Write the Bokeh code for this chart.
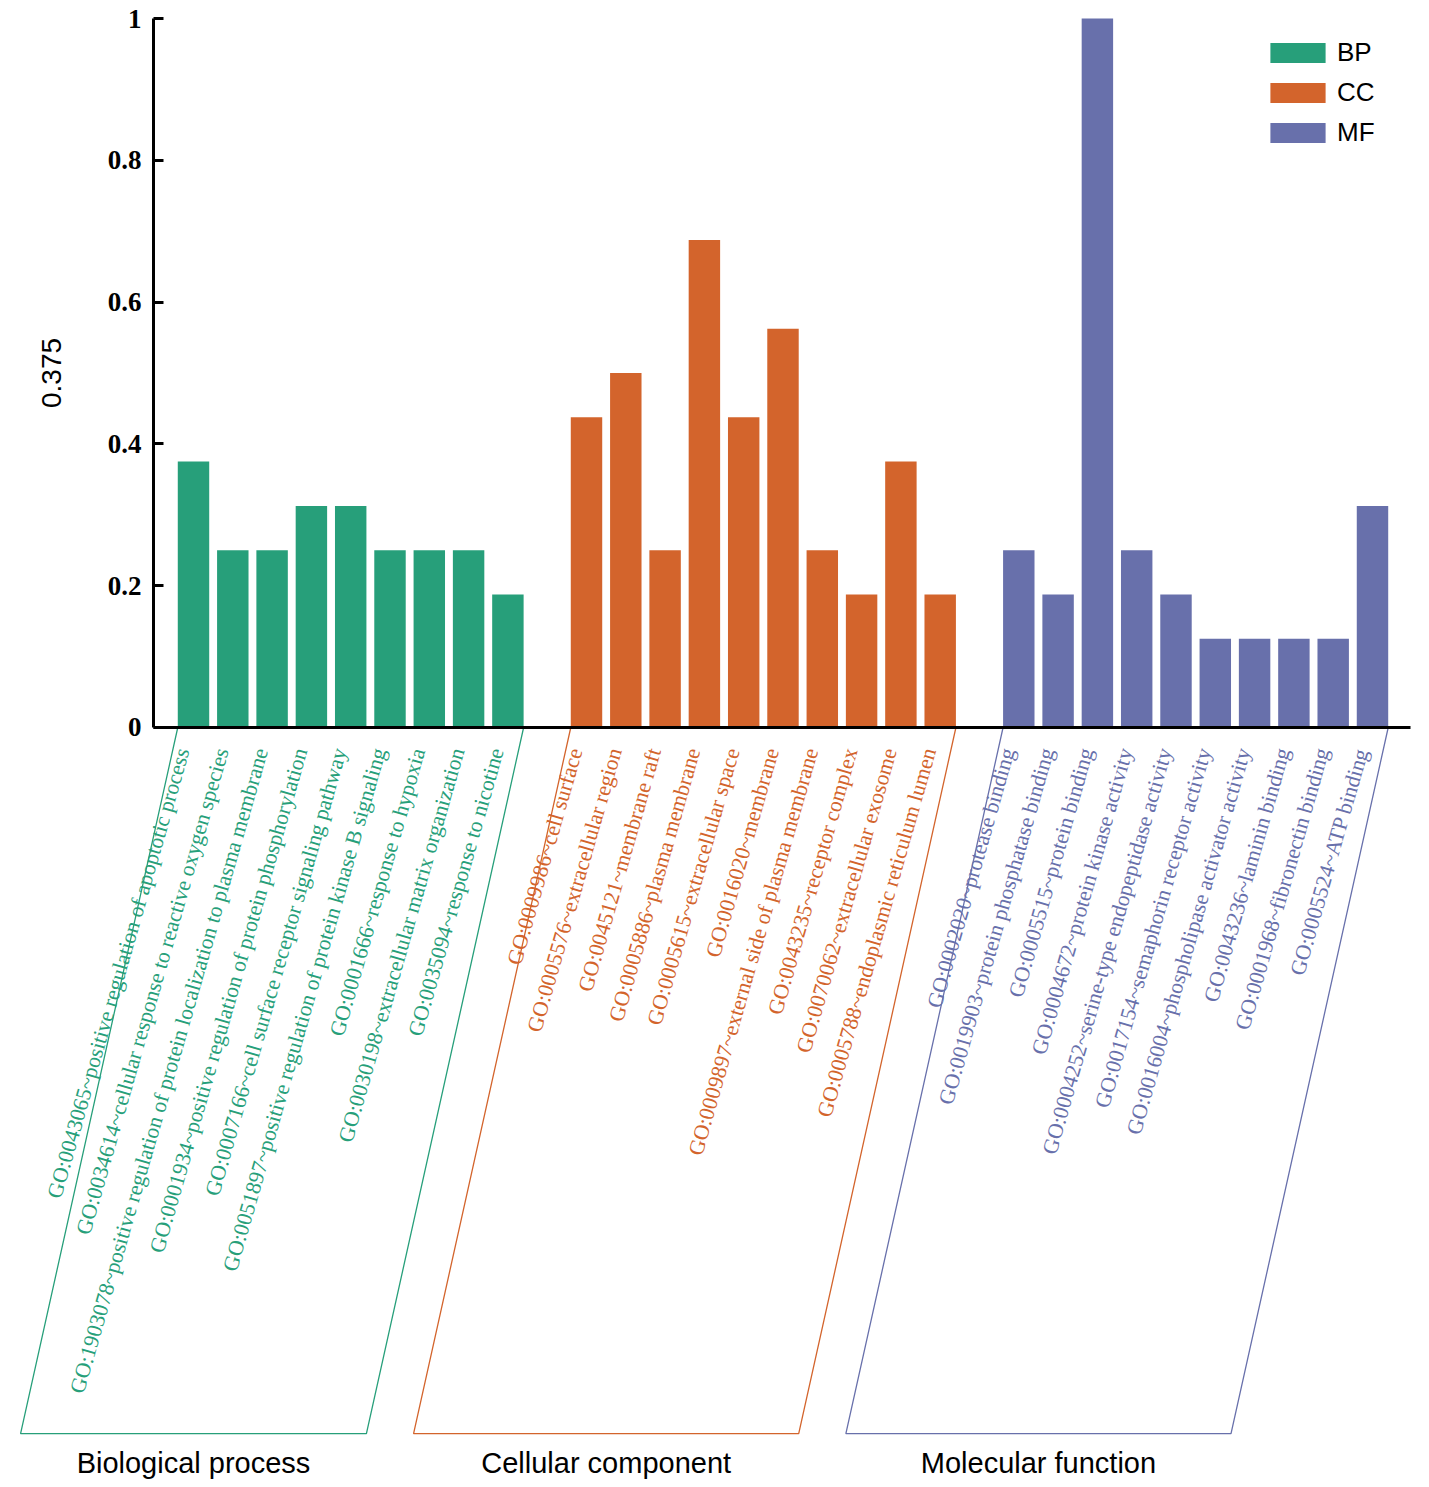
from bokeh.plotting import figure
from bokeh.models import (LinearAxis, FixedTicker, Range1d, Legend, LegendItem,
                          ColumnDataSource)
from bokeh.embed import file_html
from bokeh.resources import INLINE
from bokeh.core.properties import value

bp_terms = [
    "GO:0043065~positive regulation of apoptotic process",
    "GO:0034614~cellular response to reactive oxygen species",
    "GO:1903078~positive regulation of protein localization to plasma membrane",
    "GO:0001934~positive regulation of protein phosphorylation",
    "GO:0007166~cell surface receptor signaling pathway",
    "GO:0051897~positive regulation of protein kinase B signaling",
    "GO:0001666~response to hypoxia",
    "GO:0030198~extracellular matrix organization",
    "GO:0035094~response to nicotine",
]
bp_values = [0.375, 0.25, 0.25, 0.3125, 0.3125, 0.25, 0.25, 0.25, 0.1875]

cc_terms = [
    "GO:0009986~cell surface",
    "GO:0005576~extracellular region",
    "GO:0045121~membrane raft",
    "GO:0005886~plasma membrane",
    "GO:0005615~extracellular space",
    "GO:0016020~membrane",
    "GO:0009897~external side of plasma membrane",
    "GO:0043235~receptor complex",
    "GO:0070062~extracellular exosome",
    "GO:0005788~endoplasmic reticulum lumen",
]
cc_values = [0.4375, 0.5, 0.25, 0.6875, 0.4375, 0.5625, 0.25, 0.1875, 0.375, 0.1875]

mf_terms = [
    "GO:0002020~protease binding",
    "GO:0019903~protein phosphatase binding",
    "GO:0005515~protein binding",
    "GO:0004672~protein kinase activity",
    "GO:0004252~serine-type endopeptidase activity",
    "GO:0017154~semaphorin receptor activity",
    "GO:0016004~phospholipase activator activity",
    "GO:0043236~laminin binding",
    "GO:0001968~fibronectin binding",
    "GO:0005524~ATP binding",
]
mf_values = [0.25, 0.1875, 1.0, 0.25, 0.1875, 0.125, 0.125, 0.125, 0.125, 0.3125]

group_keys = ["BP", "CC", "MF"]
group_names = ["Biological process", "Cellular component", "Molecular function"]
group_colors = ["#279f7a", "#d3642c", "#6870ab"]
y_ticks = [0, 0.2, 0.4, 0.6, 0.8, 1]
y_tick_labels = ["0", "0.2", "0.4", "0.6", "0.8", "1"]
y_title = "0.375"

groups = [(bp_terms, bp_values), (cc_terms, cc_values), (mf_terms, mf_values)]

W, H = 1421, 1479
p = figure(width=W, height=H, output_backend="svg", toolbar_location=None,
           x_range=Range1d(-4.911, 31.247), y_range=Range1d(-1.0607, 1.0254),
           x_axis_location=None, y_axis_location=None,
           min_border=0, outline_line_color=None)
p.grid.visible = False

bar_w = 0.8
shift = 4.0
renderers = []
start = 0
for (terms, vals), color, name in zip(groups, group_colors, group_names):
    pos = [start + i for i in range(len(vals))]
    src = ColumnDataSource(dict(x=pos, top=vals, term=terms,
                                lx=[v - 0.27 for v in pos],
                                ly=[-0.03] * len(pos)))
    r = p.vbar(x="x", top="top", bottom=0, width=bar_w, source=src,
               fill_color=color, line_color=None)
    renderers.append(r)
    p.text(x="lx", y="ly", text="term", source=src, angle=74, angle_units="deg",
           text_align="right", text_baseline="middle",
           text_font=value("Liberation Serif"), text_font_size="21.7px",
           text_color=color)
    x0 = pos[0] - bar_w / 2
    x1 = pos[-1] + bar_w / 2
    p.patch(x=[x0, x1, x1 - shift, x0 - shift], y=[0, 0, -0.996, -0.996],
            fill_color=None, line_color=color, line_width=1.3)
    p.text(x=[(pos[0] + pos[-1]) / 2 - shift], y=[-1.038], text=[name],
           text_align="center", text_baseline="middle",
           text_font=value("Liberation Sans"), text_font_size="29px",
           text_color="#000000")
    start = pos[-1] + 2

x_end = start - 2 + 0.97

yaxis = LinearAxis(fixed_location=-1.018, bounds=(0, 1),
                   ticker=FixedTicker(ticks=y_ticks))
yaxis.major_label_overrides = {t: l for t, l in zip(y_ticks, y_tick_labels)}
yaxis.axis_line_width = 3
yaxis.axis_line_color = "#000000"
yaxis.major_tick_in = 10
yaxis.major_tick_out = 0
yaxis.major_tick_line_width = 3
yaxis.major_tick_line_color = "#000000"
yaxis.minor_tick_line_color = None
yaxis.major_label_text_font = "Liberation Serif"
yaxis.major_label_text_font_style = "bold"
yaxis.major_label_text_font_size = "27px"
yaxis.major_label_text_color = "#000000"
yaxis.major_label_standoff = 12
yaxis.axis_label = y_title
yaxis.axis_label_text_font = "Liberation Sans"
yaxis.axis_label_text_font_style = "normal"
yaxis.axis_label_text_font_size = "28px"
yaxis.axis_label_text_color = "#000000"
yaxis.axis_label_standoff = 44
p.add_layout(yaxis, "left")

xaxis = LinearAxis(fixed_location=0, bounds=(-1.018, x_end),
                   ticker=FixedTicker(ticks=[]))
xaxis.axis_line_width = 3
xaxis.axis_line_color = "#000000"
xaxis.major_tick_line_color = None
xaxis.minor_tick_line_color = None
xaxis.major_label_text_font_size = "0px"
p.add_layout(xaxis, "below")

legend = Legend(items=[LegendItem(label=k, renderers=[r]) for k, r in zip(group_keys, renderers)],
                location=(1263, H - 40 - 108),
                glyph_width=69, glyph_height=25, label_standoff=5,
                label_text_font="Liberation Sans", label_text_font_size="26px",
                label_text_color="#000000",
                spacing=9, padding=0, margin=0,
                border_line_color=None, background_fill_alpha=0)
p.add_layout(legend)

open("out.html", "w").write(file_html(p, INLINE))
